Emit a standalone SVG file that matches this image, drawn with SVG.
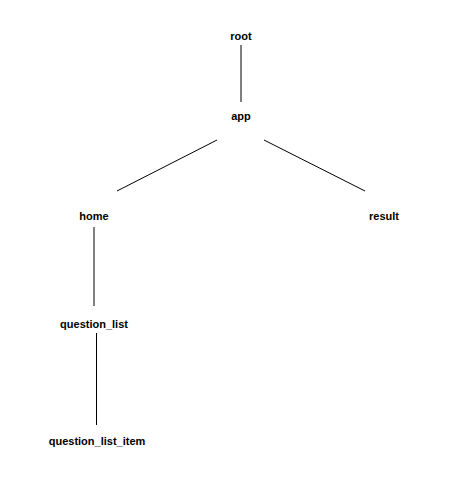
<svg xmlns="http://www.w3.org/2000/svg" width="465" height="477" viewBox="0 0 465 477">
<style>
text{font-family:"Liberation Sans",Arial,sans-serif;font-size:11px;font-weight:bold;fill:#000;text-anchor:middle}
line{stroke:#000;stroke-width:1}
</style>
<rect width="465" height="477" fill="#fff"/>
<g id="connectors">
<line x1="241" y1="45" x2="241" y2="102"/>
<line x1="217" y1="140" x2="117" y2="191"/>
<line x1="264" y1="140" x2="365" y2="191"/>
<line x1="94" y1="227" x2="94" y2="306"/>
<line x1="96.5" y1="333" x2="96.5" y2="425"/>
</g>
<g id="root"><text x="241" y="40">root</text></g>
<g id="app"><text x="241" y="120">app</text></g>
<g id="home"><text x="94" y="220">home</text></g>
<g id="result"><text x="384" y="220">result</text></g>
<g id="question_list"><text x="94" y="328">question_list</text></g>
<g id="question_list_item"><text x="97" y="445">question_list_item</text></g>
</svg>
